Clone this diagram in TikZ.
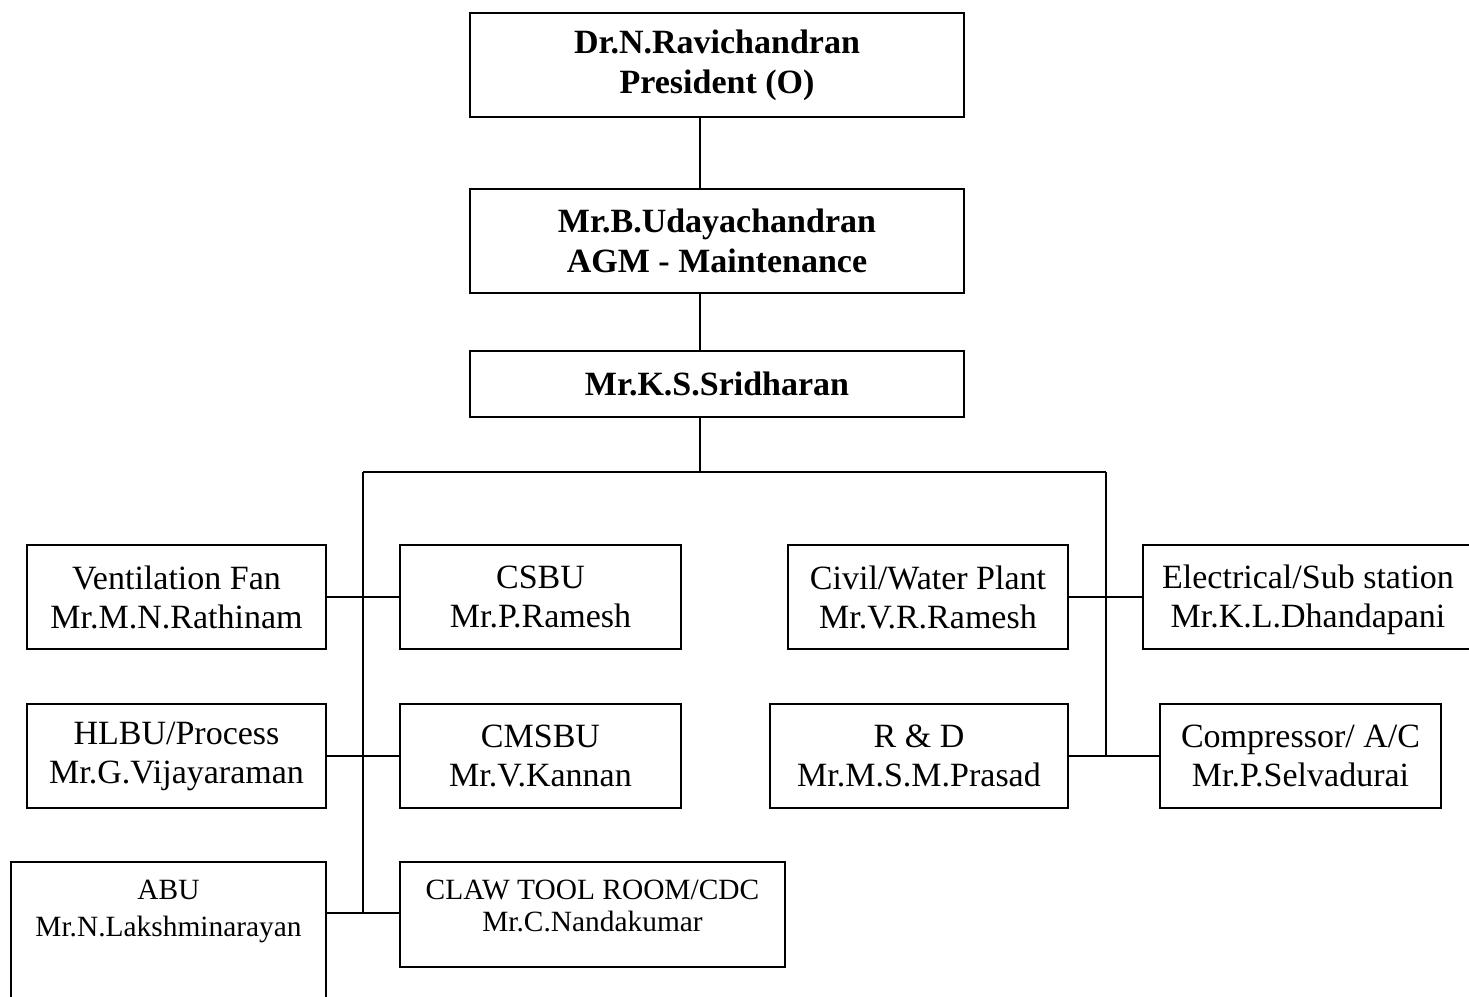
\documentclass[tikz,border=0pt]{standalone}
\usepackage{fontspec}
\setmainfont{Liberation Serif}
\begin{document}
\begin{tikzpicture}[x=0.5pt,y=-0.5pt,
  box/.style={draw, line width=1pt, inner sep=0pt, align=center,
    font=\fontsize{17}{19.5}\selectfont},
  headbox/.style={box, font=\fontsize{17}{20}\selectfont\bfseries},
  smalltext/.style={inner sep=0pt, align=center},
  link/.style={line width=1pt}]
\useasboundingbox (0,0) rectangle (1469,997);

% org box: name, x1, y1, x2, y2, style, text
\newcommand\orgbox[7]{%
  \node[#6, minimum width={(#4-#2)*0.5pt}, minimum height={(#5-#3)*0.5pt}]
    (#1) at ({(#2+#4)/2},{(#3+#5)/2}) {#7};}

% management chain
\orgbox{pres}{470}{13}{964}{117}{headbox}{Dr.N.Ravichandran\\President (O)}
\orgbox{agm}{470}{189}{964}{293}{headbox}{Mr.B.Udayachandran\\AGM - Maintenance}
\orgbox{sri}{470}{351}{964}{417}{headbox}{Mr.K.S.Sridharan}

% left group
\orgbox{vent}{27}{545}{326}{649}{box}{Ventilation Fan\\Mr.M.N.Rathinam}
\orgbox{csbu}{400}{545}{681}{649}{box}{CSBU\\Mr.P.Ramesh}
\orgbox{hlbu}{27}{704}{326}{808}{box}{HLBU/Process\\Mr.G.Vijayaraman}
\orgbox{cmsbu}{400}{704}{681}{808}{box}{CMSBU\\Mr.V.Kannan}
\orgbox{abu}{11}{862}{326}{1010}{box}{}
\orgbox{claw}{400}{862}{785}{967}{box}{}
\node[smalltext, font=\fontsize{14.7}{18.5}\selectfont] (abutext) at (168.5,911)
  {ABU\\Mr.N.Lakshminarayan};
\node[smalltext, font=\fontsize{14.7}{16}\selectfont] (clawtext) at (592.5,906)
  {CLAW TOOL ROOM/CDC\\Mr.C.Nandakumar};

% right group
\orgbox{civil}{788}{545}{1068}{649}{box}{Civil/Water Plant\\Mr.V.R.Ramesh}
\orgbox{elec}{1143}{545}{1485}{649}{box}{}
\node[smalltext, font=\fontsize{17}{19.5}\selectfont] (electext) at (1308,600)
  {Electrical/Sub station\\Mr.K.L.Dhandapani};
\orgbox{rnd}{770}{704}{1068}{808}{box}{R \& D\\Mr.M.S.M.Prasad}
\orgbox{comp}{1160}{704}{1441}{808}{box}{Compressor/ A/C\\Mr.P.Selvadurai}

% spine and bus lines
\coordinate (spine) at (700,0);
\coordinate (busL) at (363,472);
\coordinate (busR) at (1106,472);
\coordinate (lend) at (363,913);
\coordinate (rend) at (1106,756);

\draw[link] (spine |- pres.south) -- (spine |- agm.north);
\draw[link] (spine |- agm.south) -- (spine |- sri.north);
\draw[link] (spine |- sri.south) -- (spine |- busL);
\draw[link] (busL) -- (busR);
\draw[link] (busL) -- (lend);
\draw[link] (busR) -- (rend);

\draw[link] (vent.east) -- (csbu.west);
\draw[link] (hlbu.east) -- (cmsbu.west);
\draw[link] (abu.east |- lend) -- (claw.west |- lend);
\draw[link] (civil.east) -- (elec.west);
\draw[link] (rnd.east) -- (comp.west);
\end{tikzpicture}
\end{document}
